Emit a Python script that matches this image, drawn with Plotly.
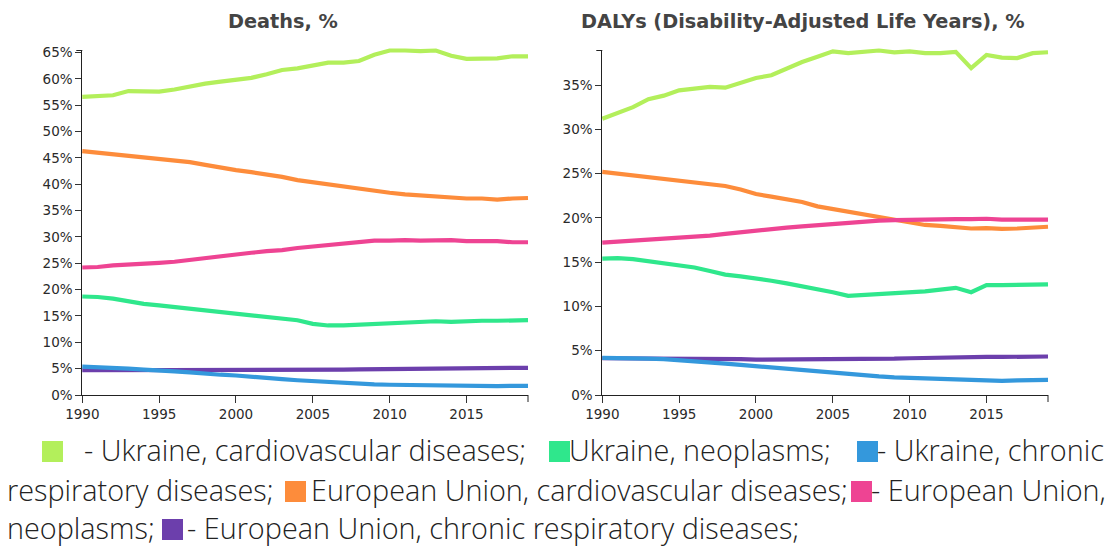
import plotly.graph_objects as go

W, H = 1110, 547

years = list(range(1990, 2020))

# Share of deaths, %
deaths_ua_cvd = [56.6, 56.7, 56.9, 57.7, 57.7, 57.6, 58.0, 58.6, 59.1, 59.5,
                 59.8, 60.2, 60.9, 61.7, 62.0, 62.6, 63.1, 63.1, 63.4, 64.6,
                 65.4, 65.4, 65.3, 65.4, 64.4, 63.8, 63.8, 63.9, 64.3, 64.3]
deaths_ua_neo = [18.7, 18.6, 18.3, 17.7, 17.3, 17.0, 16.7, 16.4, 16.1, 15.9,
                 15.6, 15.3, 15.0, 14.6, 14.2, 13.5, 13.2, 13.2, 13.3, 13.4,
                 13.5, 13.7, 13.9, 14.0, 13.9, 14.1, 14.1, 14.1, 14.1, 14.2]
deaths_ua_crd = [5.4, 5.3, 5.2, 5.0, 4.8, 4.7, 4.5, 4.3, 4.0, 3.85,
                 3.7, 3.4, 3.2, 3.0, 2.8, 2.6, 2.4, 2.3, 2.15, 2.0,
                 1.95, 1.9, 1.85, 1.75, 1.7, 1.6, 1.6, 1.7, 1.75, 1.75]
deaths_eu_cvd = [46.3, 46.0, 45.7, 45.5, 45.2, 44.9, 44.6, 44.2, 43.7, 43.1,
                 42.7, 42.3, 41.9, 41.4, 40.8, 40.4, 40.0, 39.5, 39.1, 38.7,
                 38.4, 38.1, 37.9, 37.6, 37.4, 37.3, 37.3, 37.1, 37.3, 37.4]
deaths_eu_neo = [24.2, 24.3, 24.6, 24.7, 24.9, 25.1, 25.3, 25.6, 25.9, 26.2,
                 26.7, 27.0, 27.3, 27.5, 27.9, 28.2, 28.5, 28.8, 29.0, 29.3,
                 29.3, 29.4, 29.3, 29.4, 29.4, 29.2, 29.2, 29.2, 29.0, 29.0]
deaths_eu_crd = [4.7, 4.7, 4.65, 4.6, 4.6, 4.6, 4.6, 4.6, 4.6, 4.6,
                 4.6, 4.65, 4.7, 4.75, 4.75, 4.8, 4.8, 4.8, 4.85, 4.9,
                 4.9, 4.95, 5.0, 5.05, 5.1, 5.1, 5.15, 5.15, 5.15, 5.15]

# Share of DALYs, %
dalys_ua_cvd = [31.2, 31.9, 32.5, 33.4, 33.8, 34.4, 34.6, 34.8, 34.7, 35.3,
                35.8, 36.1, 36.9, 37.6, 38.2, 38.8, 38.6, 38.8, 38.9, 38.7,
                38.8, 38.6, 38.6, 38.75, 36.9, 38.4, 38.1, 38.05, 38.6, 38.7]
dalys_ua_neo = [15.4, 15.45, 15.35, 15.1, 14.9, 14.7, 14.4, 14.0, 13.6, 13.4,
                13.2, 12.9, 12.6, 12.3, 12.0, 11.6, 11.2, 11.3, 11.4, 11.4,
                11.5, 11.7, 11.9, 12.1, 11.6, 12.4, 12.4, 12.4, 12.5, 12.5]
dalys_ua_crd = [4.2, 4.2, 4.2, 4.1, 4.05, 3.95, 3.85, 3.7, 3.55, 3.4,
                3.25, 3.1, 2.95, 2.8, 2.6, 2.5, 2.3, 2.2, 2.1, 2.0,
                1.95, 1.9, 1.8, 1.75, 1.65, 1.6, 1.6, 1.65, 1.7, 1.7]
dalys_eu_cvd = [25.2, 25.0, 24.8, 24.7, 24.4, 24.3, 24.1, 23.9, 23.6, 23.2,
                22.7, 22.4, 22.1, 21.8, 21.3, 21.0, 20.7, 20.3, 20.0, 19.7,
                19.5, 19.2, 19.1, 19.0, 18.8, 18.85, 18.75, 18.8, 18.9, 19.0]
dalys_eu_neo = [17.2, 17.3, 17.4, 17.5, 17.6, 17.8, 17.9, 18.0, 18.2, 18.4,
                18.6, 18.75, 18.9, 19.05, 19.2, 19.3, 19.4, 19.6, 19.7, 19.75,
                19.8, 19.8, 19.85, 19.85, 19.85, 19.9, 19.8, 19.8, 19.8, 19.8]
dalys_eu_crd = [4.15, 4.15, 4.1, 4.1, 4.1, 4.1, 4.1, 4.1, 4.05, 4.05,
                4.0, 4.0, 4.0, 4.05, 4.05, 4.05, 4.05, 4.1, 4.1, 4.1,
                4.15, 4.2, 4.2, 4.25, 4.25, 4.3, 4.3, 4.3, 4.35, 4.35]

x_ticks = [1990, 1995, 2000, 2005, 2010, 2015]
deaths_ticks = list(range(0, 70, 5))
dalys_ticks = list(range(0, 40, 5))

chart_titles = ["Deaths, %", "DALYs (Disability-Adjusted Life Years), %"]

colors = {
    "ua_cvd": "#b3ef5b",
    "ua_neo": "#2fe78c",
    "ua_crd": "#3498dc",
    "eu_cvd": "#fd8c3b",
    "eu_neo": "#ee4493",
    "eu_crd": "#6c3fac",
}

# drawing order: EU series underneath, Ukraine on top
series_deaths = [("eu_cvd", deaths_eu_cvd), ("eu_neo", deaths_eu_neo), ("eu_crd", deaths_eu_crd),
                 ("ua_cvd", deaths_ua_cvd), ("ua_neo", deaths_ua_neo), ("ua_crd", deaths_ua_crd)]
series_dalys = [("eu_cvd", dalys_eu_cvd), ("eu_neo", dalys_eu_neo), ("eu_crd", dalys_eu_crd),
                ("ua_cvd", dalys_ua_cvd), ("ua_neo", dalys_ua_neo), ("ua_crd", dalys_ua_crd)]


def px_x(v):
    return v / W


def px_y(v):
    return 1 - v / H


fig = go.Figure()
for key, vals in series_deaths:
    fig.add_trace(go.Scatter(x=years, y=vals, mode="lines", xaxis="x", yaxis="y",
                             line=dict(color=colors[key], width=4.2), cliponaxis=False,
                             showlegend=False, hoverinfo="skip"))
for key, vals in series_dalys:
    fig.add_trace(go.Scatter(x=years, y=vals, mode="lines", xaxis="x2", yaxis="y2",
                             line=dict(color=colors[key], width=4.2), cliponaxis=False,
                             showlegend=False, hoverinfo="skip"))

deaths_max = max(max(v) for _, v in series_deaths)
dalys_max = max(max(v) for _, v in series_dalys)

tick_font = dict(family="DejaVu Sans", size=13.5, color="#2a2a2a")
plot_top, plot_bottom = 50.5, 395
y_dom = [px_y(plot_bottom), px_y(plot_top)]

common_x = dict(range=[years[0], years[-1]], tickvals=x_ticks, ticks="outside", ticklen=7,
                tickcolor="#333", tickwidth=1, showline=True, linecolor="#222", linewidth=1,
                showgrid=False, zeroline=False, tickfont=tick_font, fixedrange=True,
                automargin=False)
common_y = dict(ticks="outside", ticklen=6, tickcolor="#333", tickwidth=1,
                showline=True, linecolor="#222", linewidth=1, showgrid=False, zeroline=False,
                tickfont=tick_font, fixedrange=True, automargin=False)

fig.update_layout(
    width=W, height=H,
    margin=dict(l=0, r=0, t=0, b=0, pad=0, autoexpand=False),
    paper_bgcolor="white", plot_bgcolor="white",
    xaxis=dict(domain=[px_x(82.3), px_x(528)], anchor="y", **common_x),
    yaxis=dict(domain=y_dom, anchor="x", range=[0, deaths_max], tickvals=deaths_ticks,
               ticktext=[f"{v}%" for v in deaths_ticks], **common_y),
    xaxis2=dict(domain=[px_x(602.3), px_x(1048)], anchor="y2", **common_x),
    yaxis2=dict(domain=y_dom, anchor="x2", range=[0, dalys_max], tickvals=dalys_ticks,
                ticktext=[f"{v}%" for v in dalys_ticks], **common_y),
)

# outer ticks at the far ends of each axis
shapes = []
for xr, yr in (("x", "y"), ("x2", "y2")):
    shapes.append(dict(type="line", xref=f"{xr} domain", yref=f"{yr} domain",
                       x0=1, x1=1, ysizemode="pixel", yanchor=0, y0=0, y1=-7,
                       line=dict(color="#222", width=1)))
    shapes.append(dict(type="line", yref=f"{yr} domain", xref=f"{xr} domain",
                       y0=1, y1=1, xsizemode="pixel", xanchor=0, x0=-6, x1=0,
                       line=dict(color="#222", width=1)))

annotations = []
for cx, text in zip((283, 803), chart_titles):
    annotations.append(dict(text=f"<b>{text}</b>", x=px_x(cx), y=px_y(22), xref="paper", yref="paper",
                            xanchor="center", yanchor="middle", showarrow=False,
                            font=dict(family="DejaVu Sans", size=19.3, color="#444")))

# legend written as a running paragraph with coloured swatches
legend_font = dict(family="Open Sans", size=28.8, color="#222", weight=300)
legend_rows = [
    (449, [("sw", "ua_cvd", 42), ("tx", "- Ukraine, cardiovascular diseases;", 82),
           ("sw", "ua_neo", 549), ("tx", "Ukraine, neoplasms;", 567),
           ("sw", "ua_crd", 857), ("tx", "- Ukraine, chronic", 875)]),
    (489, [("tx", "respiratory diseases;", 5), ("sw", "eu_cvd", 285),
           ("tx", "European Union, cardiovascular diseases;", 309),
           ("sw", "eu_neo", 851), ("tx", "- European Union,", 869)]),
    (527, [("tx", "neoplasms;", 5), ("sw", "eu_crd", 162),
           ("tx", "- European Union, chronic respiratory diseases;", 185)]),
]
for cy, items in legend_rows:
    for kind, val, x0 in items:
        if kind == "sw":
            shapes.append(dict(type="rect", xref="paper", yref="paper",
                               x0=px_x(x0), x1=px_x(x0 + 21), y0=px_y(cy - 8), y1=px_y(cy + 13),
                               fillcolor=colors[val], line=dict(width=0)))
        else:
            annotations.append(dict(text=val, x=px_x(x0), y=px_y(cy), xref="paper", yref="paper",
                                    xanchor="left", yanchor="middle", showarrow=False,
                                    font=legend_font))

fig.update_layout(shapes=shapes, annotations=annotations)

# let the thick lines run over the top edge of the plot area instead of being cut
unclip = """
var gd = document.getElementById('{plot_id}');
function unclipLines() {
  gd.querySelectorAll('.cartesianlayer [clip-path]').forEach(function (el) {
    el.removeAttribute('clip-path');
  });
}
unclipLines();
gd.on('plotly_afterplot', unclipLines);
"""
fig.write_html("out.html", post_script=unclip)
